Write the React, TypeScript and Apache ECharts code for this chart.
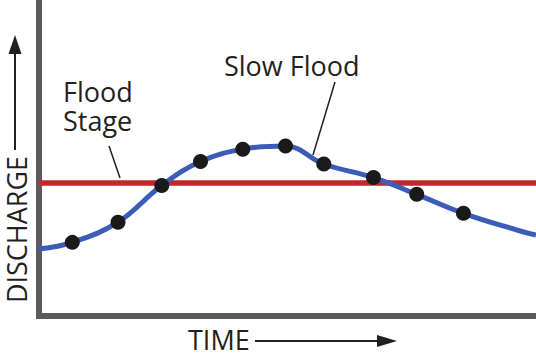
import React, { useEffect, useRef } from "react";
import * as echarts from "echarts";

// Curve samples (time in %, discharge in % of axis)
const curveTimes = [0, 6.7, 15.9, 24.7, 32.5, 41.0, 49.6, 57.3, 67.3, 76.0, 85.4, 96.2, 100];
const curveDischarge = [21.2, 23.3, 29.7, 41.3, 48.9, 52.8, 53.8, 48.1, 43.8, 38.5, 32.5, 27.2, 25.6];
// Measured points (dots)
const dotTimes = [6.7, 15.9, 24.7, 32.5, 41.0, 49.6, 57.3, 67.3, 76.0, 85.4];
const dotDischarge = [23.3, 29.7, 41.3, 48.9, 52.8, 53.8, 48.1, 43.8, 38.5, 32.5];
const floodStage = 42.1;
const xLabel = "TIME";
const yLabel = "DISCHARGE";
const floodLabelLines = ["Flood", "Stage"];
const curveLabel = "Slow Flood";

const FONT = '"Open Sans", "Noto Sans", sans-serif';
const INK = "#231f20";

export default function App() {
  const ref = useRef<HTMLDivElement>(null);
  useEffect(() => {
    if (!ref.current) return;
    const chart = echarts.init(ref.current, undefined, { renderer: "svg" });
    chart.setOption({
      animation: false,
      backgroundColor: "#ffffff",
      grid: { left: 39, right: 0, top: 0, bottom: 41 },
      xAxis: {
        type: "value",
        min: 0,
        max: 100,
        axisLine: { show: true, onZero: false, lineStyle: { color: "#5b5b5d", width: 6, cap: "square" } },
        axisTick: { show: false },
        axisLabel: { show: false },
        splitLine: { show: false },
      },
      yAxis: {
        type: "value",
        min: 0,
        max: 100,
        axisLine: { show: true, onZero: false, lineStyle: { color: "#5b5b5d", width: 6, cap: "square" } },
        axisTick: { show: false },
        axisLabel: { show: false },
        splitLine: { show: false },
      },
      series: [
        {
          type: "line",
          data: [[0, floodStage], [100, floodStage]],
          symbol: "none",
          lineStyle: { color: "#c1272d", width: 5.5 },
          z: 1,
        },
        {
          type: "line",
          data: curveTimes.map((t, i) => [t, curveDischarge[i]]),
          smooth: 0.4,
          symbol: "none",
          lineStyle: { color: "#3b5cb8", width: 5 },
          z: 2,
        },
        {
          type: "scatter",
          data: dotTimes.map((t, i) => [t, dotDischarge[i]]),
          symbolSize: 15,
          itemStyle: { color: "#1a1a1a", opacity: 1 },
          z: 3,
        },
      ],
      graphic: [
        ...floodLabelLines.map((line, i) => ({
          type: "text",
          x: 63,
          y: 91.5 + i * 29,
          style: { text: line, font: `27px ${FONT}`, lineHeight: 28, fill: INK, verticalAlign: "middle", align: "left" },
        })),
        {
          type: "line",
          shape: { x1: 109, y1: 146, x2: 120, y2: 178 },
          style: { stroke: INK, lineWidth: 1.5 },
        },
        {
          type: "text",
          x: 224,
          y: 65,
          style: { text: curveLabel, font: `27px ${FONT}`, fill: INK, verticalAlign: "middle", align: "left" },
        },
        {
          type: "line",
          shape: { x1: 335, y1: 82, x2: 313, y2: 155 },
          style: { stroke: INK, lineWidth: 1.5 },
        },
        {
          type: "text",
          x: 188,
          y: 339,
          style: { text: xLabel, font: `27px ${FONT}`, fill: INK, verticalAlign: "middle", align: "left" },
        },
        {
          type: "line",
          shape: { x1: 255, y1: 341, x2: 382, y2: 341 },
          style: { stroke: INK, lineWidth: 2 },
        },
        {
          type: "polygon",
          shape: { points: [[397, 341], [377, 335], [377, 347]] },
          style: { fill: INK },
        },
        {
          type: "text",
          x: 16,
          y: 229.5,
          rotation: Math.PI / 2,
          style: { text: yLabel, font: `27px ${FONT}`, lineHeight: 28, fill: INK, verticalAlign: "middle", align: "center" },
        },
        {
          type: "line",
          shape: { x1: 15, y1: 150, x2: 15, y2: 50 },
          style: { stroke: INK, lineWidth: 2 },
        },
        {
          type: "polygon",
          shape: { points: [[15, 35], [8.5, 54], [21.5, 54]] },
          style: { fill: INK },
        },
      ],
    });
    return () => chart.dispose();
  }, []);
  return <div ref={ref} style={{ position: "fixed", left: 0, top: 0, width: 536, height: 357 }} />;
}
